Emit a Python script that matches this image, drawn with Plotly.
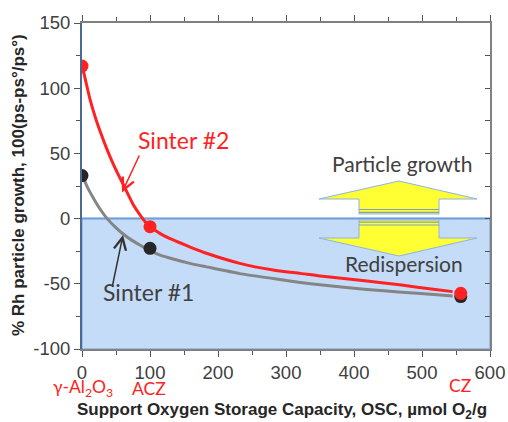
import plotly.graph_objects as go

# ---- data ----
sinter2_curve_x = [0, 3, 12, 20, 28, 36, 45, 55, 65, 75, 85, 92, 100, 115, 134, 160, 183, 232, 281, 321, 350, 419, 470, 517, 545]
sinter2_curve_y = [117, 111, 91, 77, 65, 54, 43, 32, 21.5, 11, 3, -1.8, -6, -11.5, -16.4, -22, -26.6, -34.3, -39.4, -42, -44, -47.8, -51, -54.2, -56]
sinter1_curve_x = [0, 5, 10, 17, 27, 37, 49, 61, 73, 85, 100, 115, 134, 160, 183, 232, 281, 321, 350, 419, 470, 517, 545]
sinter1_curve_y = [33, 27.5, 22, 15.5, 7, 0, -6.5, -12, -16.5, -20.2, -24.5, -28, -31, -34.5, -37, -42.2, -46, -49, -50.8, -54.3, -56.5, -58.2, -59.4]

support_osc = [0, 100, 557]          # γ-Al2O3, ACZ, CZ
sinter2_points = [117, -6.2, -57.3]
sinter1_points = [33, -22.8, -59.8]

y_tick_vals = [-100, -50, 0, 50, 100, 150]
y_tick_text = ["-100", "-50", "0", "50", "100", "150"]
x_tick_vals = [0, 100, 200, 300, 400, 500, 600]
x_tick_text = ["0", "100", "200", "300", "400", "500", "600"]
right_tick_vals = [-75, -50, -25, 0, 25, 50, 75, 100, 125]
support_labels = ["γ-Al<sub>2</sub>O<sub>3</sub>", "ACZ", "CZ"]

RED = "#FF2222"
GRAY = "#858585"
DARK = "#262626"
TXT = "#404040"

fig = go.Figure()
fig.add_trace(go.Scatter(x=sinter1_curve_x, y=sinter1_curve_y, mode="lines",
                         line=dict(color=GRAY, width=3, shape="spline", smoothing=0.6),
                         hoverinfo="skip", showlegend=False))
fig.add_trace(go.Scatter(x=sinter2_curve_x, y=sinter2_curve_y, mode="lines",
                         line=dict(color=RED, width=3, shape="spline", smoothing=0.6),
                         hoverinfo="skip", showlegend=False))
fig.add_trace(go.Scatter(x=support_osc, y=sinter1_points, mode="markers",
                         marker=dict(color=DARK, size=13), showlegend=False))
fig.add_trace(go.Scatter(x=support_osc, y=sinter2_points, mode="markers",
                         marker=dict(color=RED, size=13), showlegend=False))
# invisible trace to activate the right axis
fig.add_trace(go.Scatter(x=[0, 600], y=[-100, 150], mode="lines", yaxis="y2",
                         line=dict(width=0, color="rgba(0,0,0,0)"), hoverinfo="skip",
                         showlegend=False))

shapes = []
shapes.append(dict(type="rect", xref="x", yref="y", x0=0, x1=600, y0=-100, y1=0,
                   fillcolor="#C4DCF8", line=dict(color="#8DB3E2", width=1.5), layer="below"))
shapes.append(dict(type="line", xref="x", yref="y", x0=0, x1=600, y0=0, y1=0,
                   line=dict(color="#6FA0DC", width=2), layer="below"))

def sx(px):
    return (px - 82) / 0.68

def sy(py):
    return (218.6 - py) / 1.304

YEL = "#FFFF33"
OUT = "#8DB3E2"
up = [(359, 214), (359, 199), (319, 199), (399, 181), (477, 199), (439, 199), (439, 214)]
path = "M " + " L ".join(f"{sx(a):.2f},{sy(b):.2f}" for a, b in up) + " Z"
shapes.append(dict(type="path", xref="x", yref="y", path=path, fillcolor=YEL,
                   line=dict(color=OUT, width=1)))
dn = [(359, 220), (359, 238), (319, 238), (399, 256), (477, 238), (439, 238), (439, 220)]
path = "M " + " L ".join(f"{sx(a):.2f},{sy(b):.2f}" for a, b in dn) + " Z"
shapes.append(dict(type="path", xref="x", yref="y", path=path, fillcolor=YEL,
                   line=dict(color=OUT, width=1)))
for py in (209.5, 212.3, 222.2, 225.0):
    shapes.append(dict(type="line", xref="x", yref="y", x0=sx(359), x1=sx(439),
                       y0=sy(py), y1=sy(py), line=dict(color="#7F9FC8", width=1.2)))

ann = []
LAT = "Lato"
ann.append(dict(x=sx(183), y=sy(140), xref="x", yref="y", text="Sinter #2", showarrow=False,
                font=dict(family=LAT, size=23, color=RED)))
ann.append(dict(x=sx(122), y=sy(192.5), xref="x", yref="y", text="", showarrow=True,
                ax=18, ay=-38.5, arrowhead=5, arrowsize=1.6, arrowwidth=1.5,
                arrowcolor=RED))
ann.append(dict(x=sx(148.5), y=sy(292), xref="x", yref="y", text="Sinter #1", showarrow=False,
                font=dict(family=LAT, size=23, color=TXT)))
ann.append(dict(x=sx(123), y=sy(235), xref="x", yref="y", text="", showarrow=True,
                ax=-11, ay=53, arrowhead=5, arrowsize=1.6, arrowwidth=1.5,
                arrowcolor="#333333"))
ann.append(dict(x=sx(402), y=sy(163), xref="x", yref="y", text="Particle growth",
                showarrow=False, font=dict(family=LAT, size=21, color=TXT)))
ann.append(dict(x=sx(403.5), y=sy(263), xref="x", yref="y", text="Redispersion",
                showarrow=False, font=dict(family=LAT, size=21, color=TXT)))

label_px = [(83, 388), (149, 388), (460, 385)]
for lab, (px, py) in zip(support_labels, label_px):
    ann.append(dict(x=(px - 82) / 408, y=(349 - py) / 326, xref="paper", yref="paper",
                    text=lab, showarrow=False, xanchor="center", yanchor="middle",
                    font=dict(family=LAT, size=17.5, color=RED)))

ann.append(dict(x=(18 - 82) / 408, y=(349 - 185) / 326, xref="paper", yref="paper",
                text="<b>% Rh particle growth, 100(ps-ps°/ps°)</b>", textangle=-90,
                showarrow=False, xanchor="center", yanchor="middle",
                font=dict(family="Liberation Sans", size=17, color="#262626")))
ann.append(dict(x=(282 - 82) / 408, y=(349 - 411) / 326, xref="paper", yref="paper",
                text="<b>Support Oxygen Storage Capacity, OSC, µmol O<sub>2</sub>/g</b>",
                showarrow=False, xanchor="center", yanchor="middle",
                font=dict(family="Liberation Sans", size=17, color="#262626")))

fig.update_layout(
    width=508, height=422,
    margin=dict(l=82, r=18, t=23, b=73, autoexpand=False),
    paper_bgcolor="white", plot_bgcolor="white",
    showlegend=False,
    shapes=shapes, annotations=ann,
    xaxis=dict(range=[0, 600], showgrid=False, zeroline=False, showline=True,
               automargin=False,
               linecolor="#808080", linewidth=1.5, mirror="ticks",
               ticks="outside", ticklen=6, tickcolor="#555555", tickwidth=1,
               tickvals=x_tick_vals, ticktext=x_tick_text,
               minor=dict(dtick=50, tick0=0, ticks="outside", ticklen=4, tickcolor="#555555"),
               tickfont=dict(family="Liberation Sans", size=18.5, color=TXT)),
    yaxis=dict(range=[-100, 150], showgrid=False, zeroline=False, showline=True,
               automargin=False,
               linecolor="#4A6A94", linewidth=2,
               ticks="outside", ticklen=6, tickcolor="#555555", tickwidth=1,
               tickvals=y_tick_vals, ticktext=y_tick_text,
               minor=dict(dtick=25, tick0=0, ticks="outside", ticklen=4, tickcolor="#555555"),
               tickfont=dict(family="Liberation Sans", size=18.5, color=TXT)),
    yaxis2=dict(range=[-100, 150], overlaying="y", side="right", showgrid=False,
                automargin=False,
                zeroline=False, showline=True, linecolor="#808080", linewidth=1.5,
                ticks="inside", ticklen=5, tickcolor="#555555", tickvals=right_tick_vals,
                showticklabels=False),
)

post = "document.body.style.margin='0px';document.body.style.overflow='hidden';"
fig.write_html("out.html", post_script=post,
               config={"responsive": False, "displayModeBar": False})
